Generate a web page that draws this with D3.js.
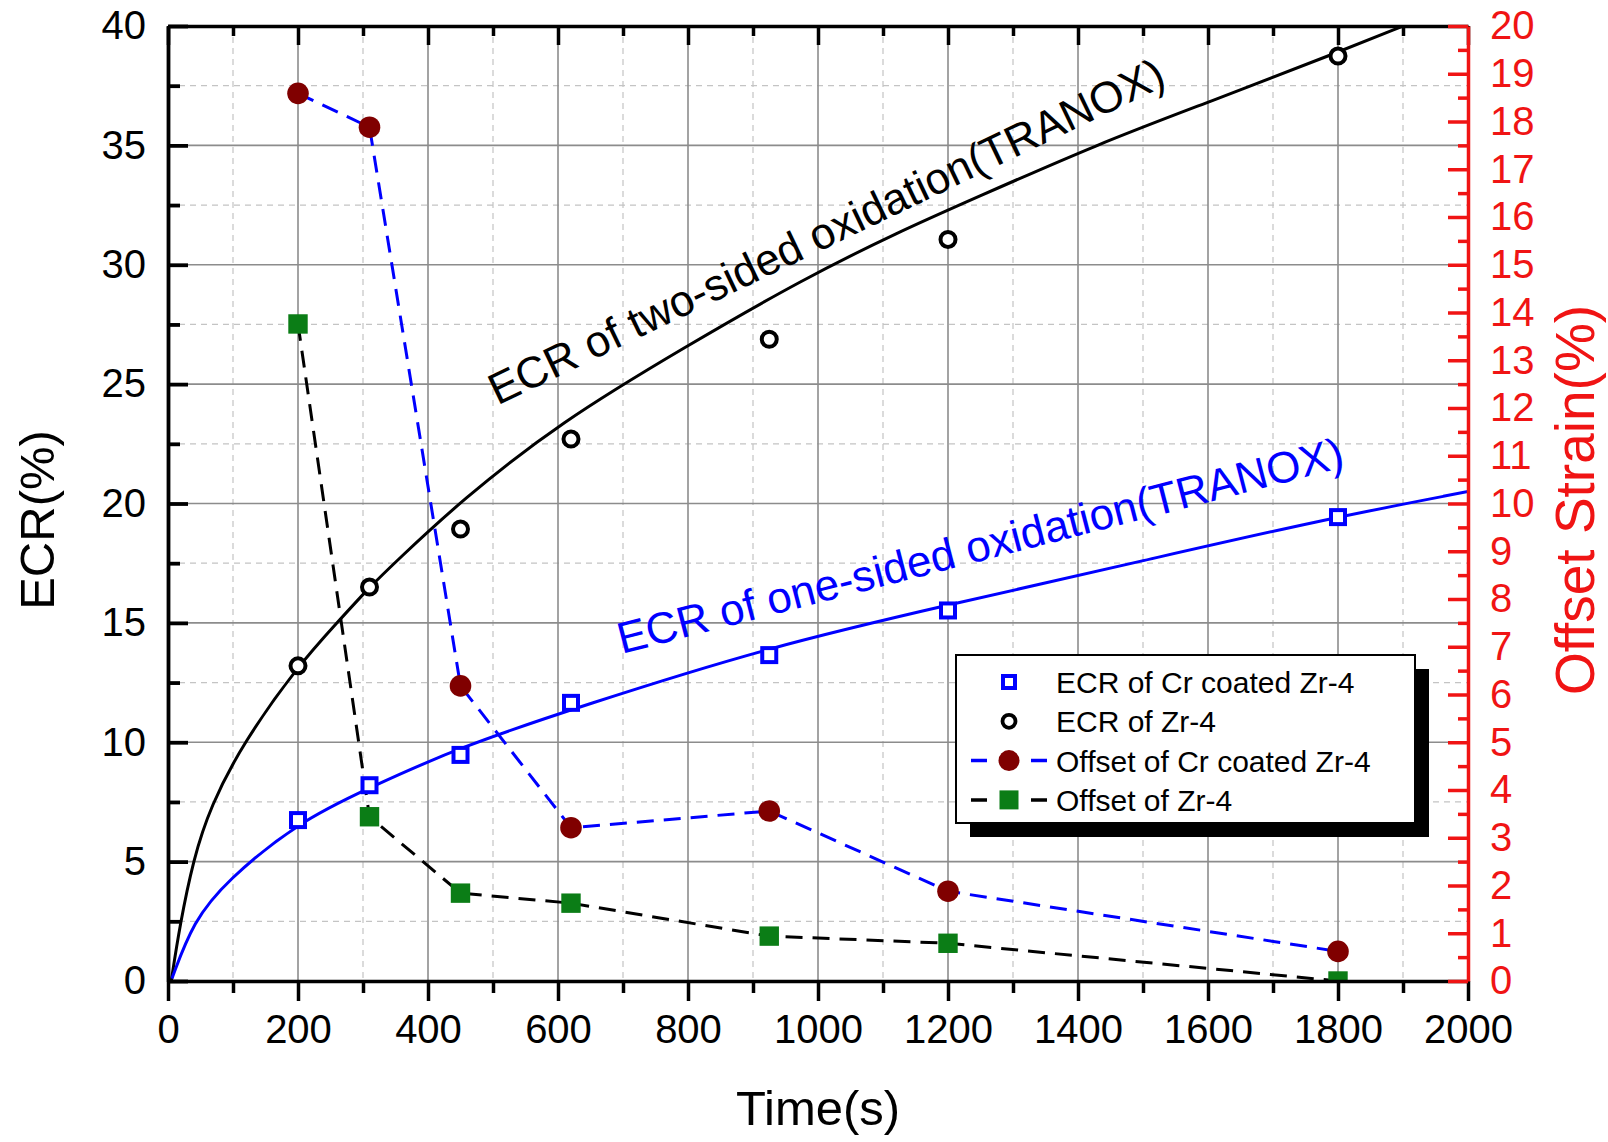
<!DOCTYPE html>
<html><head><meta charset="utf-8">
<script src="https://cdn.jsdelivr.net/npm/d3@7"></script>
<style>
html,body{margin:0;padding:0;background:#fff;}
svg{display:block;font-family:"Liberation Sans",Arial,Helvetica,sans-serif;}
</style></head>
<body><svg id="chart" width="1608" height="1142"></svg>
<script>
// ---------- data ----------
const times        = [200, 310, 450, 620, 925, 1200, 1800];
const ecrCoated    = [6.74, 8.2, 9.47, 11.65, 13.65, 15.52, 19.43];   // left axis
const ecrZr4       = [13.2, 16.5, 18.93, 22.7, 26.88, 31.06, 38.74];  // left axis
const offsetCoated = [18.59, 17.88, 6.18, 3.21, 3.56, 1.88, 0.62];    // right axis
const offsetZr4    = [13.76, 3.44, 1.84, 1.63, 0.94, 0.79, 0.0];      // right axis

// TRANOX curves
const twoSidedT = [5, 18, 39, 65, 116, 200, 260, 310, 352, 450, 603, 798, 977, 1126, 1234, 1434, 1600, 1800, 1900];
const twoSidedV = [0, 2.3, 5.1, 7.3, 10.0, 13.2, 15.0, 16.5, 17.6, 20.1, 23.4, 26.6, 29.4, 31.4, 32.7, 35.1, 36.8, 38.9, 40.0];
const oneSidedT = [6, 39, 90, 200, 306, 449, 634, 925, 1200, 1500, 1772, 2000];
const oneSidedV = [0.1, 2.5, 4.2, 6.65, 8.05, 9.8, 11.5, 14.0, 15.75, 17.6, 19.3, 20.5];

const xTicks      = [0, 200, 400, 600, 800, 1000, 1200, 1400, 1600, 1800, 2000];
const xMinorTicks = [100, 300, 500, 700, 900, 1100, 1300, 1500, 1700, 1900];
const yLTicks     = [0, 5, 10, 15, 20, 25, 30, 35, 40];
const yLMinor     = [2.5, 7.5, 12.5, 17.5, 22.5, 27.5, 32.5, 37.5];
const yRTicks     = d3.range(0, 21, 1);
const yRMinor     = d3.range(0.5, 20, 1);

const labels = {
  x: "Time(s)", yL: "ECR(%)", yR: "Offset Strain(%)",
  twoSided: "ECR of two-sided oxidation(TRANOX)",
  oneSided: "ECR of one-sided oxidation(TRANOX)"
};
const legendNames = ["ECR of Cr coated Zr-4", "ECR of Zr-4", "Offset of Cr coated Zr-4", "Offset of Zr-4"];
// annotation anchors in data units (time, ECR) and rotation
const annotations = [
  {text: labels.twoSided, t: 507, v: 24.1, angle: -25.6, color: "#000"},
  {text: labels.oneSided, t: 698, v: 13.7, angle: -14.5, color: "#0000ff"}
];

// ---------- layout ----------
const L = 168, R = 1468, T = 26, B = 981;
const RED = "#f01414", BLUE = "#0000ff", MAROON = "#800000", GREEN = "#0b7d16";
const svg = d3.select("#chart");
const x  = d3.scaleLinear().domain([0, 2000]).range([L, R]);
const yL = d3.scaleLinear().domain([0, 40]).range([B, T]);
const yR = d3.scaleLinear().domain([0, 20]).range([B, T]);

svg.append("defs").append("clipPath").attr("id", "plotclip")
  .append("rect").attr("x", L).attr("y", T).attr("width", R - L).attr("height", B - T);

// ---------- grid ----------
const grid = svg.append("g");
grid.selectAll(".gxm").data(xMinorTicks).join("line")
  .attr("x1", d => x(d)).attr("x2", d => x(d)).attr("y1", T).attr("y2", B)
  .attr("stroke", "#c4c4c4").attr("stroke-width", 1.2).attr("stroke-dasharray", "6,5");
grid.selectAll(".gym").data(yLMinor).join("line")
  .attr("y1", d => yL(d)).attr("y2", d => yL(d)).attr("x1", L).attr("x2", R)
  .attr("stroke", "#c4c4c4").attr("stroke-width", 1.2).attr("stroke-dasharray", "6,5");
grid.selectAll(".gx").data(xTicks.slice(1, -1)).join("line")
  .attr("x1", d => x(d)).attr("x2", d => x(d)).attr("y1", T).attr("y2", B)
  .attr("stroke", "#8c8c8c").attr("stroke-width", 1.6);
grid.selectAll(".gy").data(yLTicks.slice(1, -1)).join("line")
  .attr("y1", d => yL(d)).attr("y2", d => yL(d)).attr("x1", L).attr("x2", R)
  .attr("stroke", "#8c8c8c").attr("stroke-width", 1.6);

// ---------- curves ----------
const plot = svg.append("g").attr("clip-path", "url(#plotclip)");
const curveLine = d3.line().x(d => x(d[0])).y(d => yL(d[1])).curve(d3.curveBasis);
plot.append("path").datum(d3.zip(twoSidedT, twoSidedV)).attr("d", curveLine)
  .attr("fill", "none").attr("stroke", "#000").attr("stroke-width", 3);
plot.append("path").datum(d3.zip(oneSidedT, oneSidedV)).attr("d", curveLine)
  .attr("fill", "none").attr("stroke", BLUE).attr("stroke-width", 3);

const rLine = d3.line().x(d => x(d[0])).y(d => yR(d[1]));
plot.append("path").datum(d3.zip(times, offsetCoated)).attr("d", rLine)
  .attr("fill", "none").attr("stroke", BLUE).attr("stroke-width", 3).attr("stroke-dasharray", "17,10");
plot.append("path").datum(d3.zip(times, offsetZr4)).attr("d", rLine)
  .attr("fill", "none").attr("stroke", "#000").attr("stroke-width", 3).attr("stroke-dasharray", "17,10");

// ---------- markers ----------
plot.selectAll(".sq").data(d3.zip(times, ecrCoated)).join("rect")
  .attr("x", d => x(d[0]) - 7).attr("y", d => yL(d[1]) - 7).attr("width", 14).attr("height", 14)
  .attr("fill", "#fff").attr("stroke", BLUE).attr("stroke-width", 4);
plot.selectAll(".oc").data(d3.zip(times, ecrZr4)).join("circle")
  .attr("cx", d => x(d[0])).attr("cy", d => yL(d[1])).attr("r", 7.5)
  .attr("fill", "#fff").attr("stroke", "#000").attr("stroke-width", 4);
plot.selectAll(".rc").data(d3.zip(times, offsetCoated)).join("circle")
  .attr("cx", d => x(d[0])).attr("cy", d => yR(d[1])).attr("r", 10.8).attr("fill", MAROON);
plot.selectAll(".gs").data(d3.zip(times, offsetZr4)).join("rect")
  .attr("x", d => x(d[0]) - 9.7).attr("y", d => yR(d[1]) - 9.7).attr("width", 19.4).attr("height", 19.4)
  .attr("fill", GREEN);

// ---------- annotations ----------
annotations.forEach(a => {
  svg.append("text").attr("transform", `translate(${x(a.t)},${yL(a.v)}) rotate(${a.angle})`)
    .attr("font-size", 44).attr("fill", a.color).text(a.text);
});

// ---------- axes ----------
function styleAxis(g, color, width) {
  g.attr("font-family", null);
  g.select(".domain").attr("stroke", color).attr("stroke-width", width);
  g.selectAll(".tick line").attr("stroke", color).attr("stroke-width", width);
  g.selectAll(".tick text").attr("fill", color).attr("font-size", 40);
}
// bottom
const gB = svg.append("g").attr("transform", `translate(0,${B})`)
  .call(d3.axisBottom(x).tickValues(xTicks).tickSizeInner(20).tickSizeOuter(0).tickPadding(14).tickFormat(d3.format("d")));
styleAxis(gB, "#000", 3.5);
const gBm = svg.append("g").attr("transform", `translate(0,${B})`)
  .call(d3.axisBottom(x).tickValues(xMinorTicks).tickSizeInner(12).tickSizeOuter(0).tickFormat(""));
styleAxis(gBm, "#000", 3.5); gBm.select(".domain").remove();
// top
const gT = svg.append("g").attr("transform", `translate(0,${T})`)
  .call(d3.axisTop(x).tickValues(xTicks).tickSizeInner(-19).tickSizeOuter(0).tickFormat(""));
styleAxis(gT, "#000", 3.5);
const gTm = svg.append("g").attr("transform", `translate(0,${T})`)
  .call(d3.axisTop(x).tickValues(xMinorTicks).tickSizeInner(-10).tickSizeOuter(0).tickFormat(""));
styleAxis(gTm, "#000", 3.5); gTm.select(".domain").remove();
// left
const gL = svg.append("g").attr("transform", `translate(${L},0)`)
  .call(d3.axisLeft(yL).tickValues(yLTicks).tickSizeInner(-20).tickSizeOuter(0).tickPadding(22));
styleAxis(gL, "#000", 3.8);
const gLm = svg.append("g").attr("transform", `translate(${L},0)`)
  .call(d3.axisLeft(yL).tickValues(yLMinor).tickSizeInner(-12).tickSizeOuter(0).tickFormat(""));
styleAxis(gLm, "#000", 3.8); gLm.select(".domain").remove();
// right (red)
const gR = svg.append("g").attr("transform", `translate(${R},0)`)
  .call(d3.axisRight(yR).tickValues(yRTicks).tickSizeInner(-20).tickSizeOuter(0).tickPadding(22));
styleAxis(gR, RED, 3.5);
const gRm = svg.append("g").attr("transform", `translate(${R},0)`)
  .call(d3.axisRight(yR).tickValues(yRMinor).tickSizeInner(-10).tickSizeOuter(0).tickFormat(""));
styleAxis(gRm, RED, 3.5); gRm.select(".domain").remove();

// axis titles
svg.append("text").attr("x", (L + R) / 2).attr("y", 1125).attr("text-anchor", "middle")
  .attr("font-size", 49).attr("fill", "#000").text(labels.x);
svg.append("text").attr("transform", `translate(54,520) rotate(-90)`).attr("text-anchor", "middle")
  .attr("font-size", 49).attr("fill", "#000").text(labels.yL);
svg.append("text").attr("transform", `translate(1594,500) rotate(-90)`).attr("text-anchor", "middle")
  .attr("font-size", 55).attr("fill", RED).text(labels.yR);

// ---------- legend ----------
const lg = svg.append("g");
const lx = 956, ly = 655, lw = 459, lh = 168, sh = 14;
lg.append("rect").attr("x", lx + sh).attr("y", ly + sh).attr("width", lw).attr("height", lh).attr("fill", "#000");
lg.append("rect").attr("x", lx).attr("y", ly).attr("width", lw).attr("height", lh)
  .attr("fill", "#fff").attr("stroke", "#000").attr("stroke-width", 2);
const rowY = i => 682 + i * 39.3;
const symX = 1009;
legendNames.forEach((name, i) => {
  lg.append("text").attr("x", 1056).attr("y", rowY(i) + 11).attr("font-size", 30).attr("fill", "#000").text(name);
});
lg.append("rect").attr("x", symX - 6).attr("y", rowY(0) - 6).attr("width", 12).attr("height", 12)
  .attr("fill", "#fff").attr("stroke", BLUE).attr("stroke-width", 4);
lg.append("circle").attr("cx", symX).attr("cy", rowY(1)).attr("r", 6.5)
  .attr("fill", "#fff").attr("stroke", "#000").attr("stroke-width", 3.8);
lg.append("line").attr("x1", 971).attr("x2", 1047).attr("y1", rowY(2)).attr("y2", rowY(2))
  .attr("stroke", BLUE).attr("stroke-width", 3.5).attr("stroke-dasharray", "16,44,16");
lg.append("circle").attr("cx", symX).attr("cy", rowY(2)).attr("r", 10.5).attr("fill", MAROON);
lg.append("line").attr("x1", 971).attr("x2", 1047).attr("y1", rowY(3)).attr("y2", rowY(3))
  .attr("stroke", "#000").attr("stroke-width", 3.5).attr("stroke-dasharray", "16,44,16");
lg.append("rect").attr("x", symX - 9.5).attr("y", rowY(3) - 9.5).attr("width", 19).attr("height", 19).attr("fill", GREEN);
</script></body></html>
